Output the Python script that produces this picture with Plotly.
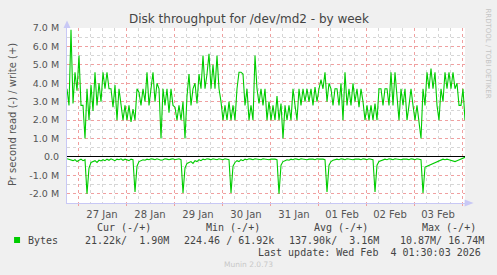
import plotly.graph_objects as go
import pandas as pd

# ---------------- data (MB/s, hourly samples) ----------------
start_time = "2026-01-26 18:30"
end_time = "2026-02-04 01:30"

write_mb = [
    3.7, 2.8, 6.9, 2.9, 4.6, 3.6, 5.5, 2.8, 2.8, 1.0,
    3.7, 2.0, 3.9, 2.5, 4.6, 2.8, 4.0, 3.0, 4.6, 3.7,
    4.6, 3.7, 3.7, 2.7, 3.9, 2.0, 3.7, 2.8, 2.0, 2.8,
    2.0, 2.8, 1.9, 2.6, 2.0, 3.7, 3.5, 2.8, 3.7, 3.0,
    4.6, 2.8, 3.7, 4.6, 3.0, 4.0, 3.7, 1.0, 3.7, 2.8,
    3.7, 2.4, 3.7, 2.8, 2.7, 2.0, 2.8, 2.0, 3.0, 1.0,
    3.3, 4.5, 2.8, 3.7, 4.0, 2.9, 4.5, 3.7, 5.5, 3.7,
    4.5, 5.6, 3.7, 5.0, 3.7, 5.5, 3.7, 3.0, 2.0, 2.8,
    2.0, 3.0, 2.0, 2.8, 2.0, 3.7, 4.6, 4.6, 4.5, 2.8,
    3.7, 2.0, 2.8, 2.0, 5.5, 3.7, 2.9, 3.7, 2.8, 3.7,
    2.0, 3.0, 2.0, 2.8, 2.0, 3.3, 2.0, 2.9, 1.0, 2.8,
    2.0, 2.8, 2.0, 3.7, 2.8, 2.0, 3.7, 2.8, 3.7, 3.0,
    3.7, 3.0, 3.7, 2.8, 3.8, 3.0, 3.7, 4.2, 3.7, 4.6,
    3.0, 4.0, 3.7, 2.8, 3.7, 3.7, 2.8, 4.0, 2.0, 4.6,
    2.8, 3.7, 2.8, 4.0, 3.0, 3.7, 2.7, 3.7, 3.0, 2.0,
    2.8, 2.0, 2.8, 2.0, 2.9, 2.0, 3.7, 3.7, 2.8, 3.7,
    3.7, 2.8, 4.6, 2.8, 4.6, 3.0, 2.0, 3.7, 2.8, 3.7,
    2.0, 2.8, 3.7, 2.8, 2.0, 2.8, 2.0, 1.0, 3.7, 2.8,
    4.6, 3.7, 4.8, 3.7, 4.6, 2.8, 2.0, 3.7, 3.0, 4.6,
    3.7, 4.6, 3.7, 4.6, 3.7, 4.0, 2.8, 2.8, 3.7, 2.0,
]

read_mb = [
    0.10, 0.12, 0.15, 0.20, 0.15, 0.25, 0.18, 0.12, 0.20, 0.15,
    2.00, 0.60, 0.30, 0.25, 0.20, 0.30, 0.18, 0.22, 0.15, 0.20,
    0.12, 0.18, 0.10, 0.15, 0.20, 0.12, 0.15, 0.10, 0.18, 0.12,
    0.15, 0.20, 0.12, 0.15, 1.90, 0.50, 0.25, 0.20, 0.15, 0.18,
    0.12, 0.15, 0.10, 0.12, 0.15, 0.10, 0.12, 0.18, 0.15, 0.10,
    0.12, 0.15, 0.12, 0.10, 0.15, 0.12, 0.10, 0.15, 1.95, 0.60,
    0.35, 0.30, 0.25, 0.35, 0.20, 0.25, 0.15, 0.20, 0.12, 0.15,
    0.10, 0.12, 0.15, 0.10, 0.12, 0.15, 0.10, 0.12, 0.15, 0.10,
    0.12, 0.15, 1.95, 0.50, 0.30, 0.20, 0.25, 0.15, 0.20, 0.12,
    0.15, 0.10, 0.12, 0.15, 0.10, 0.12, 0.10, 0.15, 0.10, 0.12,
    0.10, 0.15, 0.12, 0.10, 0.12, 0.15, 2.00, 0.45, 0.25, 0.20,
    0.15, 0.18, 0.12, 0.15, 0.10, 0.12, 0.15, 0.10, 0.12, 0.10,
    0.15, 0.12, 0.10, 0.12, 0.15, 0.10, 0.12, 0.10, 0.12, 0.15,
    1.90, 0.45, 0.25, 0.18, 0.15, 0.12, 0.15, 0.10, 0.12, 0.15,
    0.10, 0.12, 0.10, 0.15, 0.12, 0.10, 0.12, 0.15, 0.10, 0.12,
    0.15, 0.10, 0.12, 0.15, 1.90, 0.45, 0.25, 0.20, 0.15, 0.12,
    0.15, 0.10, 0.12, 0.15, 0.10, 0.12, 0.10, 0.15, 0.12, 0.10,
    0.12, 0.15, 0.10, 0.12, 0.15, 0.10, 0.12, 0.15, 1.95, 0.55,
    0.50, 0.45, 0.40, 0.35, 0.30, 0.25, 0.20, 0.15, 0.12, 0.15,
    0.12, 0.15, 0.18, 0.20, 0.25, 0.20, 0.15, 0.10, 0.05, 0.02,
]

ytick_vals_m = [7, 6, 5, 4, 3, 2, 1, 0, -1, -2]
ytick_text = ["7.0 M", "6.0 M", "5.0 M", "4.0 M", "3.0 M", "2.0 M",
              "1.0 M", "0.0", "-1.0 M", "-2.0 M"]

legend_headers = ["Cur (-/+)", "Min (-/+)", "Avg (-/+)", "Max (-/+)"]
legend_values = ["21.22k/  1.90M", "224.46 / 61.92k", "137.90k/  3.16M", "10.87M/ 16.74M"]
series_name = "Bytes"
title_text = "Disk throughput for /dev/md2 - by week"
ylabel_text = "Pr second read (-) / write (+)"
last_update = "Last update: Wed Feb  4 01:30:03 2026"
munin_ver = "Munin 2.0.73"
rrd_credit = "RRDTOOL / TOBI OETIKER"

# ---------------- figure ----------------
W, H = 497, 275
L, R, T, B = 67, 465.4, 28, 203

def px(x):
    return (x - L) / (R - L)

def py(y):
    return (B - y) / (B - T)

times = pd.date_range(start_time, periods=len(write_mb), freq="1h")
GREEN = "#00cc00"

fig = go.Figure()
fig.add_trace(go.Scatter(x=times, y=[v * 1e6 for v in write_mb], mode="lines",
                         line=dict(color=GREEN, width=1.1, shape="linear"),
                         showlegend=False, hoverinfo="skip"))
fig.add_trace(go.Scatter(x=times, y=[-v * 1e6 for v in read_mb], mode="lines",
                         line=dict(color=GREEN, width=1.1, shape="linear"),
                         showlegend=False, hoverinfo="skip"))

TXT = "#555555"
AXC = "#c8c8f5"
fig.update_layout(
    width=W, height=H,
    margin=dict(l=L, r=W - R, t=T, b=H - B),
    paper_bgcolor="#f0f0f0",
    plot_bgcolor="#ffffff",
    font=dict(family="DejaVu Sans", color=TXT, size=10),
    showlegend=False,
)
fig.update_xaxes(
    type="date",
    range=[start_time, end_time],
    dtick=86400000,
    tick0="2026-01-27 00:00",
    tickformat="%d %b",
    ticklabelmode="period",
    showgrid=True, gridcolor="#f0a0a0", griddash="dot", gridwidth=1,
    minor=dict(dtick=6 * 3600000, showgrid=True, gridcolor="#d6d6d6",
               griddash="dot", ticks=""),
    ticks="outside", ticklen=2, tickcolor="#f0a0a0",
    showline=True, linecolor=AXC, linewidth=1,
    tickfont=dict(size=10, color=TXT),
    zeroline=False,
)
fig.update_yaxes(
    range=[-2.5e6, 7.0e6],
    tickvals=[v * 1e6 for v in ytick_vals_m],
    ticktext=ytick_text,
    showgrid=True, gridcolor="#f0a0a0", griddash="dot", gridwidth=1,
    minor=dict(dtick=0.5e6, showgrid=True, gridcolor="#d6d6d6",
               griddash="dot", ticks=""),
    ticks="outside", ticklen=5, tickcolor="rgba(0,0,0,0)",
    showline=True, linecolor=AXC, linewidth=1,
    zeroline=True, zerolinecolor="#000000", zerolinewidth=1,
    tickfont=dict(size=9.5, color=TXT),
)

# axis arrows
fig.add_shape(type="path", xref="paper", yref="paper",
              path=f"M {px(63.5)} {py(28)} L {px(67)} {py(20.5)} L {px(70.5)} {py(28)} Z",
              fillcolor=AXC, line=dict(width=0))
fig.add_shape(type="path", xref="paper", yref="paper",
              path=f"M {px(465)} {py(199.5)} L {px(474)} {py(203)} L {px(465)} {py(206.5)} Z",
              fillcolor=AXC, line=dict(width=0))

ann = []
def add_text(x, y, text, size=10, color=TXT, xanchor="center", family="DejaVu Sans", angle=0):
    ann.append(dict(x=px(x), y=py(y), xref="paper", yref="paper", text=text,
                    showarrow=False, xanchor=xanchor, yanchor="middle",
                    textangle=angle, font=dict(size=size, color=color, family=family)))

add_text(249, 19, title_text, size=12, color="#444444")
add_text(12, 115, ylabel_text, size=10, angle=-90)
add_text(488, 53, rrd_credit, size=7, color="#c4c4c4", angle=90)

MONO = "DejaVu Sans Mono"
header_x = [124.5, 233.5, 341.5, 449.5]
for hx, h in zip(header_x, legend_headers):
    add_text(hx, 227, h, family=MONO, color="#444444")
value_x = [83, 182, 287, 398]
for vx, v in zip(value_x, legend_values):
    add_text(vx, 240, v.replace(" ", "&nbsp;"), family=MONO, color="#444444", xanchor="left")
add_text(26, 240, series_name, family=MONO, color="#444444", xanchor="left")
add_text(483, 252, last_update.replace(" ", "&nbsp;"), family=MONO, color="#444444", xanchor="right")
add_text(249, 264, munin_ver, size=7.5, color="#c8c8c8")

fig.add_shape(type="rect", xref="paper", yref="paper",
              x0=px(14), x1=px(20), y0=py(243), y1=py(237),
              fillcolor=GREEN, line=dict(width=0))

fig.update_layout(annotations=ann)
fig.write_html("out.html")
